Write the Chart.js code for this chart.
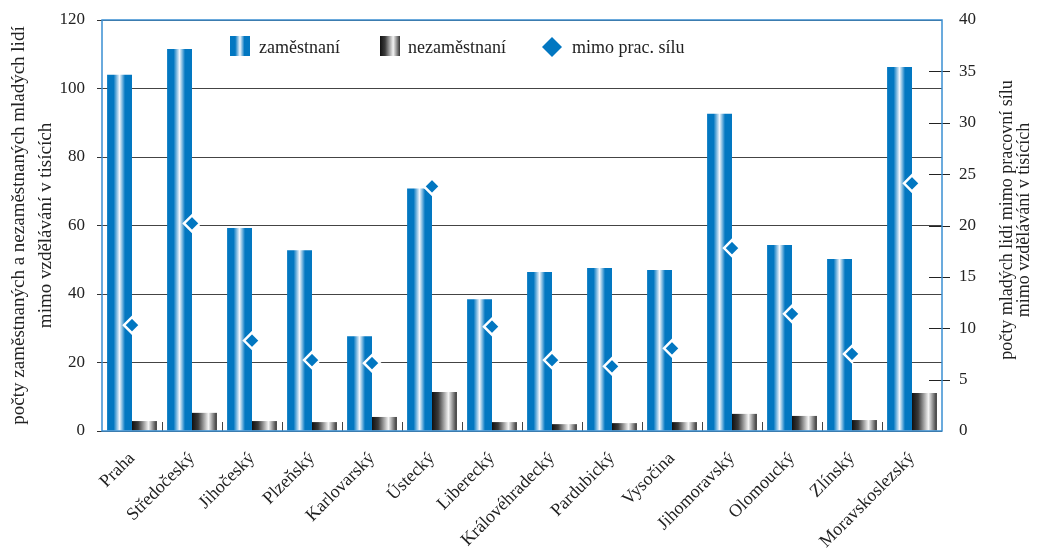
<!DOCTYPE html>
<html>
<head>
<meta charset="utf-8">
<script src="https://cdn.jsdelivr.net/npm/chart.js@4/dist/chart.umd.min.js"></script>
<style>
  html, body { margin: 0; padding: 0; background: #fff; }
  #wrap { width: 1037px; height: 549px; position: relative; }
</style>
</head>
<body>
<div id="wrap"><canvas id="kraje_chart"></canvas></div>
<script>
var regions = ['Praha', 'Středočeský', 'Jihočeský', 'Plzeňský', 'Karlovarský', 'Ústecký', 'Liberecký',
  'Královéhradecký', 'Pardubický', 'Vysočina', 'Jihomoravský', 'Olomoucký', 'Zlínský', 'Moravskoslezský'];
var employed = [104, 111.5, 59.3, 52.8, 27.7, 70.8, 38.5, 46.4, 47.6, 47.0, 92.6, 54.3, 50.2, 106.3];
var unemployed = [2.9, 5.3, 2.9, 2.6, 4.1, 11.4, 2.6, 2.0, 2.3, 2.6, 5.0, 4.4, 3.2, 11.1];
var outsideLabour = [10.3, 20.2, 8.8, 6.9, 6.6, 23.8, 10.15, 6.9, 6.3, 8.05, 17.8, 11.4, 7.5, 24.1];
var leftTicks = [0, 20, 40, 60, 80, 100, 120];
var rightTicks = [0, 5, 10, 15, 20, 25, 30, 35, 40];

var BLUE = '#0277c1';
var blueStops = [[0, BLUE], [0.26, BLUE], [0.5, '#f2f6fc'], [0.72, BLUE], [1, BLUE]];
var darkStops = [[0, '#111'], [0.25, '#3a3a3a'], [0.66, '#f4f4f4'], [1, '#333']];
var CAT_PCT = 0.83;
var SERIF = '"Liberation Serif", "Times New Roman", serif';

function gradient(ctx, x0, x1, stops) {
  var g = ctx.createLinearGradient(x0, 0, x1, 0);
  stops.forEach(function (s) { g.addColorStop(s[0], s[1]); });
  return g;
}

// horizontal gradient across each bar, side -1 = left bar of the pair, +1 = right bar
function barFill(stops, side) {
  return function (c) {
    var chart = c.chart;
    if (c.type !== 'data' || !chart.chartArea || !chart.scales.x) return stops[0][1];
    var x = chart.scales.x;
    var center = x.getPixelForValue(c.dataIndex);
    var w = x.width / regions.length * CAT_PCT / 2;
    var x0 = side < 0 ? center - w : center;
    if (!isFinite(x0) || !isFinite(w)) return stops[0][1];
    return gradient(chart.ctx, x0, x0 + w, stops);
  };
}

// keep the tick labels from pushing the plot area around
function noPad(width) {
  return function (s) {
    s.width = width;
    s.paddingTop = 0;
    s.paddingBottom = 0;
  };
}

var overlay = {
  id: 'overlay',
  afterDraw: function (chart) {
    var ctx = chart.ctx, a = chart.chartArea, y1 = chart.scales.y1;
    ctx.save();

    // small category ticks inside the plot
    ctx.strokeStyle = '#444';
    ctx.lineWidth = 1;
    var step = a.width / regions.length;
    for (var i = 1; i < regions.length; i++) {
      var px = Math.round(a.left + i * step) + 0.5;
      ctx.beginPath(); ctx.moveTo(px, a.bottom); ctx.lineTo(px, a.bottom - 9); ctx.stroke();
    }
    // right axis ticks crossing the frame
    ctx.strokeStyle = '#222';
    rightTicks.slice(1, -1).forEach(function (v) {
      var py = Math.round(y1.getPixelForValue(v)) + 0.5;
      ctx.beginPath(); ctx.moveTo(a.right - 13, py); ctx.lineTo(a.right + 8, py); ctx.stroke();
    });

    // frame
    ctx.strokeStyle = '#3a8fd2';
    ctx.lineWidth = 1.5;
    ctx.strokeRect(a.left, a.top, a.width, a.height);

    // legend inside the plot
    ctx.font = '18px ' + SERIF;
    ctx.textBaseline = 'alphabetic';
    ctx.textAlign = 'left';
    ctx.fillStyle = gradient(ctx, 230, 250, blueStops);
    ctx.fillRect(230, 36, 20, 20);
    ctx.fillStyle = gradient(ctx, 380, 400, darkStops);
    ctx.fillRect(380, 36, 20, 20);
    ctx.fillStyle = BLUE;
    ctx.beginPath();
    ctx.moveTo(552, 37); ctx.lineTo(562, 47); ctx.lineTo(552, 57); ctx.lineTo(542, 47);
    ctx.closePath(); ctx.fill();
    ctx.fillStyle = '#222';
    ctx.fillText('zaměstnaní', 259, 53);
    ctx.fillText('nezaměstnaní', 408, 53);
    ctx.fillText('mimo prac. sílu', 572, 53);

    // right axis title, read bottom to top
    ctx.textAlign = 'center';
    ctx.translate(1012, 220);
    ctx.rotate(-Math.PI / 2);
    ctx.fillText('počty mladých lidí mimo pracovní sílu', 0, 0);
    ctx.fillText('mimo vzdělávání v tisících', 0, 17);
    ctx.restore();
  }
};

var config = {
  type: 'bar',
  data: {
    labels: regions,
    datasets: [{
      label: 'zaměstnaní',
      data: employed,
      backgroundColor: barFill(blueStops, -1),
      yAxisID: 'y',
      order: 1
    }, {
      label: 'nezaměstnaní',
      data: unemployed,
      backgroundColor: barFill(darkStops, 1),
      yAxisID: 'y',
      order: 1
    }, {
      type: 'line',
      label: 'mimo prac. sílu',
      data: outsideLabour,
      yAxisID: 'y1',
      showLine: false,
      pointStyle: 'rectRot',
      pointRadius: 8,
      pointHoverRadius: 8,
      pointBackgroundColor: BLUE,
      pointBorderColor: '#fff',
      pointBorderWidth: 2.5,
      order: 0
    }]
  },
  options: {
    responsive: true,
    maintainAspectRatio: false,
    animation: false,
    layout: { padding: { top: 20, left: 0, right: 0, bottom: 0 } },
    datasets: { bar: { categoryPercentage: CAT_PCT, barPercentage: 1 } },
    plugins: {
      legend: { display: false },
      title: { display: false },
      tooltip: { enabled: false }
    },
    scales: {
      x: {
        grid: { display: false, drawTicks: false },
        border: { display: false },
        ticks: {
          minRotation: 45,
          maxRotation: 45,
          padding: 17,
          color: '#222',
          font: { family: SERIF, size: 18 }
        },
        afterFit: function (s) { s.height = 118; }
      },
      y: {
        position: 'left',
        min: 0,
        max: 120,
        afterBuildTicks: function (s) { s.ticks = leftTicks.map(function (v) { return { value: v }; }); },
        grid: { color: '#444', lineWidth: 1, tickLength: 5, tickColor: '#333' },
        border: { display: false },
        ticks: { padding: 12, color: '#222', font: { family: SERIF, size: 17 } },
        title: {
          display: true,
          text: ['počty zaměstnaných a nezaměstnaných mladých lidí', 'mimo vzdělávání v tisících'],
          color: '#222',
          font: { family: SERIF, size: 19, lineHeight: 1.45 },
          padding: { top: 5, bottom: 0 }
        },
        afterFit: noPad(102)
      },
      y1: {
        position: 'right',
        min: 0,
        max: 40,
        afterBuildTicks: function (s) { s.ticks = rightTicks.map(function (v) { return { value: v }; }); },
        grid: { display: false, drawTicks: false },
        border: { display: false },
        ticks: { padding: 17, color: '#222', font: { family: SERIF, size: 17 } },
        afterFit: noPad(95)
      }
    }
  },
  plugins: [overlay]
};

window.onload = function () {
  var ctx = document.getElementById('kraje_chart').getContext('2d');
  var chart = new Chart(ctx, config);
};
</script>
</body>
</html>
